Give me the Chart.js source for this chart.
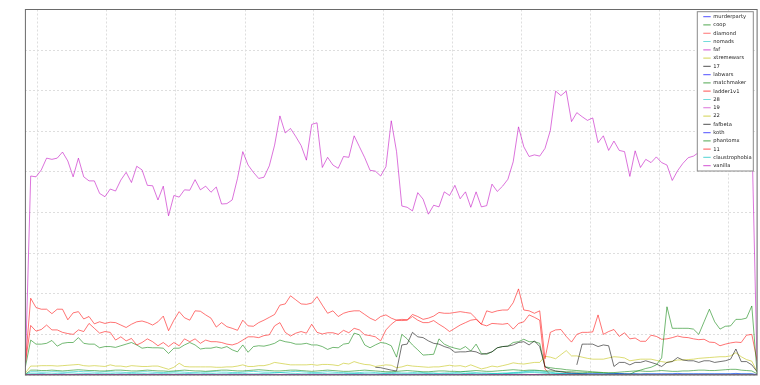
<!DOCTYPE html>
<html>
<head>
<meta charset="utf-8">
<script src="https://cdn.jsdelivr.net/npm/chart.js@4.4.1/dist/chart.umd.min.js"></script>
<style>
  html, body { margin: 0; padding: 0; background: #ffffff; }
  canvas { display: block; }
</style>
</head>
<body>
<canvas id="chart" width="760" height="385"></canvas>
<script>
// ---------- DATA (weekly game counts, 139 weeks) ----------
const weeks = Array.from({ length: 139 }, (_, i) => i);   // x categories (week number)
const gridWeeks = [2.24, 15.26, 28.35, 41.47, 54.3, 67.45, 80.6, 93.6, 106.6, 119.6, 132.7];
const yTicks = [0, 100, 200, 300, 400, 500, 600, 700, 800, 900];

const seriesNames = ['murderparty', 'coop', 'diamond', 'nomads', 'faf', 'xtremewars', '17',
  'labwars', 'matchmaker', 'ladder1v1', '28', '19', '22', 'fafbeta', 'koth', 'phantomx', '11',
  'claustrophobia', 'vanilla'];

const murderparty = [
  0,1,1,2,1,1,1,2,1,1,  1,1,2,1,1,1,1,1,2,1,  1,1,1,1,2,1,1,1,1,1,  1,2,1,1,1,1,1,1,1,1,
  1,1,1,1,1,1,1,0,1,1,  1,1,1,0,1,1,1,1,0,1,  1,1,0,1,1,0,1,1,0,0,  1,0,0,1,0,0,0,1,0,0,
  0,0,0,0,0,0,0,0,0,0,  0,0,0,0,0,0,0,0,0,0,  0,0,0,0,0,0,0,0,0,0,  0,0,0,0,0,0,0,0,0,0,
  0,0,0,0,0,0,0,0,0,0,  0,0,0,0,0,0,0,0,0];
const coop = [
  20,86,76,76,78,85,71,78,80,80,  92,78,76,76,67,70,70,68,72,76,  80,74,66,68,67,67,66,53,66,66,
  74,80,74,64,66,66,69,66,70,62,  57,74,56,70,72,71,74,78,86,82,  80,76,76,78,74,74,70,63,68,67,
  76,78,103,99,74,67,74,80,78,72,  44,100,89,74,62,49,50,51,89,76,  70,66,63,70,59,76,53,51,57,67,
  70,71,80,82,88,82,82,78,20,18,  16,15,13,12,11,10,9,8,7,6,  5,4,3,3,2,2,2,2,1,1,
  1,1,1,1,1,1,1,1,1,1,  1,1,1,1,1,1,1,1,0];
const diamond = [
  30,122,108,112,123,111,111,105,102,100,  111,107,127,115,103,107,105,86,94,84,
  90,74,80,89,82,72,80,70,80,72,  89,82,89,78,86,82,82,80,76,74,
  78,86,94,94,92,97,99,121,129,105,  96,103,107,103,125,105,101,104,104,100,
  110,104,115,111,99,97,94,84,111,125,  135,134,135,144,135,129,129,134,125,117,
  107,115,123,129,135,137,125,121,127,126,  125,127,113,127,131,148,142,135,15,0,
  0,0,0,0,0,0,0,0,0,0,  0,0,0,0,0,0,0,0,0,0,  0,0,0,0,0,0,0,0,0,0,  0,0,0,0,0,0,0,0,0];
const nomads = [
  1,8,8,7,7,8,8,7,7,8,  9,8,8,7,7,8,8,7,7,6,  6,7,8,8,7,6,6,7,8,8,  7,6,6,7,7,8,8,7,7,6,
  6,7,8,9,8,7,7,6,6,7,  8,9,8,7,6,6,7,8,7,6,  6,5,5,6,7,7,6,5,5,6,  6,5,5,6,7,6,5,5,4,5,
  5,6,7,8,7,6,5,5,4,4,  5,5,6,7,8,10,11,10,9,7,  5,4,4,3,3,3,2,2,2,2,  2,2,2,1,1,1,1,1,1,1,
  1,1,1,1,1,1,1,1,1,1,  1,1,1,1,1,1,1,1,0];
const faf = [
  20,490,488,505,534,531,534,549,527,488,  534,488,478,478,447,439,458,453,480,499,
  474,514,505,467,466,431,465,392,442,438,  456,455,481,456,465,450,463,421,422,431,
  484,550,517,499,484,487,515,566,638,596,  607,587,565,529,617,621,511,536,517,509,
  538,536,589,562,535,504,502,490,513,626,  550,416,413,404,449,433,396,418,414,451,
  442,467,434,451,413,451,414,417,470,452,  465,482,525,611,562,538,542,539,558,602,
  699,688,699,624,646,636,627,633,572,589,  553,576,553,550,489,552,511,531,523,537,
  523,517,479,503,521,535,539,548,556,560,  552,549,558,566,560,570,575,600,15];
const xtremewars = [
  5,22,22,23,23,23,22,23,24,25,  26,23,22,23,22,21,25,22,22,20,  23,22,21,21,22,22,18,14,19,29,
  21,20,20,20,20,20,19,19,20,20,  22,25,21,21,23,23,26,31,29,27,  25,25,25,25,26,24,26,26,25,23,
  29,27,33,29,26,25,21,23,25,24,  18,20,24,22,21,20,19,20,20,22,  24,22,23,20,25,20,15,18,22,20,
  23,26,30,28,27,29,31,31,46,44,  40,50,60,47,47,44,41,39,39,39,  42,45,44,42,35,37,39,39,39,36,
  33,31,34,37,37,38,39,41,42,43,  44,45,45,47,55,45,38,34,8];
const s17 = [
  null,null,null,null,null,null,null,null,null,null,  null,null,null,null,null,null,null,null,null,null,
  null,null,null,null,null,null,null,null,null,null,  null,null,null,null,null,null,null,null,null,null,
  null,null,null,null,null,null,null,null,null,null,  null,null,null,null,null,null,null,null,null,null,
  null,null,null,null,null,null,null,null,null,null,  null,null,null,null,null,null,null,null,null,null,
  null,null,null,null,null,null,null,null,null,null,  null,null,null,null,null,null,null,null,null,null,
  null,null,null,null,25,76,76,76,70,74,  72,21,31,31,25,31,31,35,31,27,
  21,31,33,43,37,35,35,31,35,35,  31,33,35,39,64,33,33,25,8];
const labwars = [
  0,0,0,0,0,0,0,0,0,0,  0,0,0,0,0,0,0,0,0,0,  0,0,0,0,0,0,0,0,0,0,  0,0,0,0,0,0,0,0,0,0,
  0,0,0,0,0,0,0,0,0,0,  0,0,0,0,0,0,0,0,0,0,  1,1,1,1,1,1,1,1,1,1,  1,1,1,1,1,1,1,1,1,1,
  1,1,1,1,1,1,1,1,1,1,  1,1,1,1,1,1,1,1,0,0,  0,0,0,0,0,0,0,0,0,0,  0,0,0,0,0,0,0,0,0,0,
  0,0,0,0,0,0,0,0,0,0,  0,0,0,0,0,0,0,0,0];
const matchmaker = [
  2,12,12,11,11,12,11,10,11,12,  13,12,11,11,10,10,11,12,12,11,  10,10,11,12,11,10,10,9,10,11,
  12,11,10,10,9,10,11,12,12,11,  10,10,11,12,13,12,11,10,10,11,  12,12,11,10,9,10,11,12,11,10,
  9,9,10,11,12,11,10,9,8,8,  9,10,11,10,9,8,8,9,10,10,  9,9,8,9,10,11,10,9,9,10,
  11,12,13,12,11,12,12,11,10,10,  9,9,8,8,7,7,6,6,6,5,  5,6,7,8,9,10,10,9,9,10,
  11,10,9,9,10,10,11,12,12,11,  11,12,13,14,14,12,11,10,3];
const ladder1v1 = [
  30,189,166,162,162,151,162,162,136,153,  156,138,144,126,131,127,130,129,123,117,
  125,131,133,129,123,131,145,109,135,156,  141,135,158,157,148,140,118,129,119,115,
  110,135,121,120,129,135,142,149,172,175,  195,185,175,174,177,193,172,152,158,144,
  152,156,158,158,149,140,134,144,148,140,  135,137,136,149,144,137,140,145,154,152,
  152,154,156,154,152,139,125,158,154,158,  160,160,178,212,160,158,152,158,40,105,
  111,112,95,81,100,105,105,106,148,100,  107,112,95,104,89,91,83,83,98,95,
  88,89,92,96,93,92,89,87,88,81,  80,72,76,79,81,80,98,100,35];
const s28 = [
  0,4,4,4,3,3,4,4,5,5,  4,4,3,3,4,4,4,3,3,3,  4,4,4,3,3,3,4,4,5,4,  4,3,3,3,4,4,3,3,3,4,
  4,4,3,3,3,4,4,5,6,5,  4,4,3,3,4,4,4,3,3,3,  3,4,4,4,3,3,3,3,4,4,  3,3,3,3,3,3,4,4,3,3,
  3,3,3,4,4,3,3,3,3,3,  3,4,4,4,5,6,6,5,4,3,  3,3,2,2,2,2,2,2,2,2,  2,2,2,2,2,2,2,2,2,2,
  2,2,2,2,2,2,2,2,2,2,  2,2,2,2,2,2,2,2,0];
const s19 = [
  0,1,1,1,1,1,1,1,1,1,  1,1,1,1,1,1,1,1,1,1,  1,1,1,1,1,1,1,1,1,1,  1,1,1,1,1,1,1,1,1,1,
  1,1,1,1,1,1,1,1,1,1,  1,1,1,1,1,1,1,1,1,1,  0,0,0,0,0,0,0,0,0,0,  0,0,0,0,0,0,0,0,0,0,
  0,0,0,0,0,0,0,0,0,0,  0,0,0,0,0,0,0,0,0,0,  0,0,0,0,0,0,0,0,0,0,  0,0,0,0,0,0,0,0,0,0,
  0,0,0,0,0,0,0,0,0,0,  0,0,0,0,0,0,0,0,0];
const s22 = [
  0,0,0,0,0,0,0,0,0,0,  0,0,0,0,0,0,0,0,0,0,  0,0,0,0,0,0,0,0,0,0,  0,0,0,0,0,0,0,0,0,0,
  0,0,0,0,0,0,0,0,0,0,  0,0,0,0,0,0,0,0,0,0,  0,0,0,0,0,0,0,0,0,0,  0,0,0,0,0,0,0,0,0,0,
  0,0,0,0,0,0,0,0,0,0,  0,0,0,0,0,0,0,0,1,1,  1,1,1,1,1,1,1,1,1,1,  1,1,1,1,1,1,1,1,1,1,
  1,1,1,1,1,1,1,1,1,1,  1,1,1,1,1,1,1,1,0];
const fafbeta = [
  null,null,null,null,null,null,null,null,null,null,  null,null,null,null,null,null,null,null,null,null,
  null,null,null,null,null,null,null,null,null,null,  null,null,null,null,null,null,null,null,null,null,
  null,null,null,null,null,null,null,null,null,null,  null,null,null,null,null,null,null,null,null,null,
  null,null,null,null,null,null,19,18,15,12,  10,74,76,105,94,92,84,78,76,70,
  66,56,57,57,59,57,51,53,57,67,  70,71,74,80,82,74,84,70,20,14,
  10,8,6,5,4,3,2,null,null,null,  null,null,null,null,null,null,null,null,null,null,
  null,null,null,null,null,null,null,null,null,null,  null,null,null,null,null,null,null,null,null];
const koth = [
  0,0,0,0,0,0,0,0,0,0,  0,0,0,0,0,0,0,0,0,0,  0,0,0,0,0,0,0,0,0,0,  0,0,0,0,0,0,0,0,0,0,
  0,0,0,0,0,0,0,0,0,0,  0,0,0,0,0,0,0,0,0,0,  0,0,0,0,0,0,0,0,0,0,  0,0,0,0,0,0,0,0,0,0,
  0,0,0,0,0,0,0,0,0,0,  0,0,0,0,0,0,0,0,0,0,  1,2,2,3,3,2,3,3,3,2,  3,3,4,3,3,3,2,3,3,3,
  3,3,3,4,3,3,3,3,3,3,  3,3,3,3,4,3,3,3,1];
const phantomx = [
  0,0,0,0,0,0,0,0,0,0,  0,0,0,0,0,0,0,0,0,0,  0,0,0,0,0,0,0,0,0,0,  0,0,0,0,0,0,0,0,0,0,
  0,0,0,0,0,0,0,0,0,0,  0,0,0,0,0,0,0,0,0,0,  0,0,0,0,0,0,0,0,0,0,  0,0,0,0,0,0,0,0,0,0,
  0,0,0,0,0,0,0,0,0,0,  0,0,0,0,0,0,0,0,0,0,  0,0,0,0,0,0,0,0,0,0,  0,0,0,0,2,8,12,16,19,25,
  42,168,115,115,115,115,113,100,131,162,  131,113,120,121,137,137,140,170,4];
const s11 = [
  0,1,1,1,1,1,1,1,1,1,  1,1,1,1,1,1,1,1,1,1,  1,1,1,1,1,1,1,1,1,1,  0,0,0,0,0,0,0,0,0,0,
  0,0,0,0,0,0,0,0,0,0,  0,0,0,0,0,0,0,0,0,0,  0,0,0,0,0,0,0,0,0,0,  0,0,0,0,0,0,0,0,0,0,
  0,0,0,0,0,0,0,0,0,0,  0,0,0,0,0,0,0,0,0,0,  0,0,0,0,0,0,0,0,0,0,  0,0,0,0,0,0,0,0,0,0,
  0,0,0,0,0,0,0,0,0,0,  0,0,0,0,0,0,0,0,0];
const claustrophobia = [
  0,0,0,0,0,0,0,0,0,0,  0,0,0,0,0,0,0,0,0,0,  0,0,0,0,0,0,0,0,0,0,  0,0,0,0,0,0,0,0,0,0,
  0,0,0,0,0,0,0,0,0,0,  0,0,0,0,0,0,0,0,0,0,  1,1,2,2,2,1,1,2,2,2,  2,1,1,2,2,2,2,1,1,2,
  2,2,2,3,3,2,2,2,3,3,  3,4,5,6,7,8,8,7,6,5,  4,4,3,3,3,3,2,2,2,2,  2,2,2,2,2,2,2,2,2,2,
  2,2,2,2,2,2,2,2,2,2,  2,2,2,2,2,2,2,2,0];
const vanilla = [
  0,1,1,1,1,1,1,1,1,1,  1,1,1,1,1,1,1,1,1,1,  1,1,1,1,1,1,1,1,1,1,  1,1,1,1,1,1,1,1,1,1,
  1,1,1,1,1,1,1,1,1,1,  1,1,1,1,1,1,1,1,1,1,  1,1,1,1,1,1,1,1,1,1,  1,1,1,1,1,1,1,1,1,1,
  1,1,1,1,1,1,1,1,1,1,  1,1,1,1,1,1,1,1,0,0,  0,0,0,0,0,0,0,0,0,0,  0,0,0,0,0,0,0,0,0,0,
  0,0,0,0,0,0,0,0,0,0,  0,0,0,0,0,0,0,0,0];

const seriesValues = [murderparty, coop, diamond, nomads, faf, xtremewars, s17, labwars,
  matchmaker, ladder1v1, s28, s19, s22, fafbeta, koth, phantomx, s11, claustrophobia, vanilla];

// ---------- STYLE ----------
const ALPHA = 0.55;
const cycle = [
  [0, 0, 255],     // b
  [0, 128, 0],     // g
  [255, 0, 0],     // r
  [0, 191, 191],   // c
  [191, 0, 191],   // m
  [191, 191, 0],   // y
  [0, 0, 0]        // k
];
const colorFor = (i) => {
  const c = cycle[i % cycle.length];
  return `rgba(${c[0]},${c[1]},${c[2]},${ALPHA})`;
};

const N = seriesNames.length;
const datasets = seriesNames.map((name, i) => ({
  label: name,
  data: seriesValues[i],
  borderColor: colorFor(i),
  backgroundColor: colorFor(i),
  borderWidth: 1,
  pointRadius: 0,
  tension: 0,
  fill: false,
  spanGaps: false,
  order: N - i          // later series drawn on top, like matplotlib
}));

// legend placement (inside the plot, upper right)
const LEGEND_LEFT = 700.2;
const LEGEND_TOP = 11.0;

const legendInside = {
  id: 'legendInside',
  beforeLayout(chart) {
    const lg = chart.legend;
    if (!lg || lg._insidePatched) return;
    lg._insidePatched = true;
    const origFit = lg.fit;
    lg.fit = function () {
      origFit.call(this);
      this._fullW = this.width;
      this._fullH = this.height;
      this.width = 0;   // take no room from the plot area
    };
    lg._layers = function () {
      return [{
        z: 10,
        draw(area) {
          const ctx = chart.ctx;
          ctx.save();
          ctx.fillStyle = '#ffffff';
          ctx.strokeStyle = '#8a8a8a';
          ctx.lineWidth = 1;
          const fx = lg.left - 2.9, fy = lg.top + 0.7, fw = 56, fh = 159.3;
          ctx.fillRect(fx, fy, fw, fh);
          ctx.strokeRect(fx, fy, fw, fh);
          ctx.restore();
          lg.draw(area);
        }
      }];
    };
  },
  afterLayout(chart) {
    const lg = chart.legend;
    if (!lg) return;
    lg.left = LEGEND_LEFT;
    lg.top = LEGEND_TOP;
    lg.width = lg._fullW || 60;
    lg.right = 760;
    lg.height = 370;
    lg.bottom = 380;
  }
};

const axesFrame = {
  id: 'axesFrame',
  afterDatasetsDraw(chart) {
    const { ctx, chartArea: a } = chart;
    ctx.save();
    ctx.strokeStyle = '#6a6a6a';
    ctx.lineWidth = 1;
    ctx.strokeRect(a.left, a.top, a.right - a.left, a.bottom - a.top);
    ctx.restore();
  }
};

Chart.defaults.font.family = "'DejaVu Sans', sans-serif";

new Chart(document.getElementById('chart'), {
  type: 'line',
  data: { labels: weeks, datasets },
  options: {
    responsive: false,
    animation: false,
    devicePixelRatio: 1,
    events: [],
    layout: { padding: { left: 25.4, top: 9.5, right: 2.9, bottom: 10 } },
    plugins: {
      tooltip: { enabled: false },
      legend: {
        position: 'right',
        align: 'start',
        labels: {
          boxWidth: 7.4,
          boxHeight: 1.2,
          padding: 3.08,
          color: '#1a1a1a',
          font: { family: "'DejaVu Sans', sans-serif", size: 5.2 },
          sort: (a, b) => a.datasetIndex - b.datasetIndex,
          generateLabels(chart) {
            const items = Chart.defaults.plugins.legend.labels.generateLabels(chart);
            items.forEach((it) => { it.lineWidth = 0; it.fillStyle = it.strokeStyle; });
            return items;
          }
        }
      }
    },
    scales: {
      x: {
        type: 'linear',
        min: 0,
        max: 138,
        afterBuildTicks: (axis) => { axis.ticks = gridWeeks.map((v) => ({ value: v })); },
        ticks: { display: false },
        grid: { color: '#dedede', lineWidth: 1, drawTicks: false },
        border: { display: false, dash: [2, 2] }
      },
      y: {
        min: 0,
        max: 900,
        afterBuildTicks: (axis) => { axis.ticks = yTicks.map((v) => ({ value: v })); },
        ticks: { display: false },
        grid: { color: '#dedede', lineWidth: 1, drawTicks: false },
        border: { display: false, dash: [2, 2] }
      }
    }
  },
  plugins: [legendInside, axesFrame]
});
</script>
</body>
</html>
